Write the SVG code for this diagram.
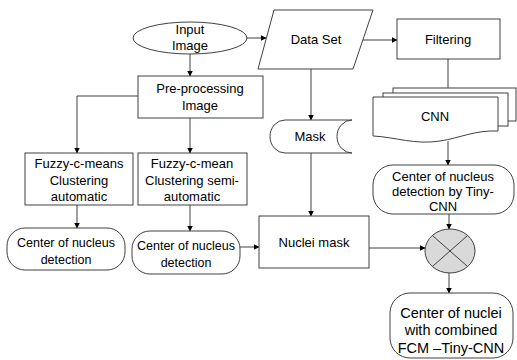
<svg xmlns="http://www.w3.org/2000/svg" width="517" height="360" viewBox="0 0 517 360">
<defs>
<marker id="ah" markerWidth="6" markerHeight="6" refX="5.5" refY="3" orient="auto" markerUnits="userSpaceOnUse"><path d="M0,0 L6,3 L0,6 Z" fill="#000"/></marker>
</defs>
<style>
.s{fill:#fff;stroke:#404040;stroke-width:1}
.t{font-family:"Liberation Sans",Arial,sans-serif;font-size:13px;fill:#000;text-anchor:middle}
.sm{font-size:12.5px}
.lg{font-size:14.5px}
.c{fill:none;stroke:#404040;stroke-width:1;marker-end:url(#ah)}
</style>
<rect width="517" height="360" fill="#fff"/>
<g id="connectors">
<path class="c" d="M247,38 H266"/>
<path class="c" d="M190,54 V76"/>
<path class="c" d="M363,40 H397"/>
<path class="c" d="M448,59 V93"/>
<path class="c" d="M311,69 V120"/>
<path class="c" d="M311,153 V216"/>
<path class="c" d="M138,96 H77 V153"/>
<path class="c" d="M190,118 V153"/>
<path class="c" d="M77,205 V228"/>
<path class="c" d="M190,205 V231"/>
<path class="c" d="M240,247 H259"/>
<path class="c" d="M369,248 H425"/>
<path class="c" d="M448,141 V165"/>
<path class="c" d="M449,214 V229"/>
<path class="c" d="M449,273 V293"/>
</g>
<g id="input-image">
<ellipse class="s" cx="190" cy="38" rx="57" ry="16"/>
<text class="t" x="190" y="34">Input</text>
<text class="t" x="190" y="50">Image</text>
</g>
<g id="data-set">
<polygon class="s" points="274,10 373,10 353,69 258,69"/>
<text class="t" x="316" y="44">Data Set</text>
</g>
<g id="filtering">
<rect class="s" x="397" y="19" width="103" height="40"/>
<text class="t" x="448" y="44">Filtering</text>
</g>
<g id="cnn">
<rect class="s" x="393" y="88" width="123" height="33"/>
<rect class="s" x="383" y="93" width="125" height="33"/>
<path class="s" d="M373,97 H498 V131 C475,130 460,138 440,141 C415,145 395,137 373,136 Z"/>
<text class="t" x="435" y="121">CNN</text>
</g>
<g id="mask">
<path class="s" d="M285,120 H352 A15,16.5 0 0 0 352,153 H285 A15,16.5 0 0 1 285,120 Z"/>
<text class="t" x="310" y="141">Mask</text>
</g>
<g id="preprocessing">
<rect class="s" x="138" y="76" width="125" height="42"/>
<text class="t" x="200" y="93">Pre-processing</text>
<text class="t" x="200" y="110">Image</text>
</g>
<g id="fcm-auto">
<rect class="s" x="25" y="153" width="108" height="52"/>
<text class="t" x="79" y="168">Fuzzy-c-means</text>
<text class="t" x="79" y="185">Clustering</text>
<text class="t" x="79" y="201">automatic</text>
</g>
<g id="fcm-semi">
<rect class="s" x="138" y="153" width="109" height="52"/>
<text class="t" x="192" y="168">Fuzzy-c-mean</text>
<text class="t" x="192" y="185">Clustering semi-</text>
<text class="t" x="192" y="201">automatic</text>
</g>
<g id="center-detection-1">
<rect class="s" x="7" y="228" width="118" height="42" rx="18"/>
<text class="t sm" x="66" y="247">Center of nucleus</text>
<text class="t sm" x="66" y="264">detection</text>
</g>
<g id="center-detection-2">
<rect class="s" x="132" y="231" width="108" height="43" rx="18"/>
<text class="t sm" x="186" y="250">Center of nucleus</text>
<text class="t sm" x="186" y="267">detection</text>
</g>
<g id="nuclei-mask">
<rect class="s" x="259" y="216" width="110" height="52"/>
<text class="t" x="314" y="247">Nuclei mask</text>
</g>
<g id="center-tiny-cnn">
<rect class="s" x="373" y="165" width="141" height="49" rx="20"/>
<text class="t" x="443" y="181">Center of nucleus</text>
<text class="t" x="443" y="196">detection by Tiny-</text>
<text class="t" x="443" y="211">CNN</text>
</g>
<g id="combine">
<ellipse cx="450" cy="251" rx="25" ry="22" fill="#d9d9d9" stroke="#404040"/>
<path d="M432.3,235.4 L467.7,266.6 M467.7,235.4 L432.3,266.6" stroke="#404040" fill="none"/>
</g>
<g id="final">
<rect class="s" x="390" y="293" width="123" height="65" rx="20"/>
<text class="t lg" x="451" y="318">Center of nuclei</text>
<text class="t lg" x="451" y="335">with combined</text>
<text class="t lg" x="451" y="353">FCM –Tiny-CNN</text>
</g>
</svg>
